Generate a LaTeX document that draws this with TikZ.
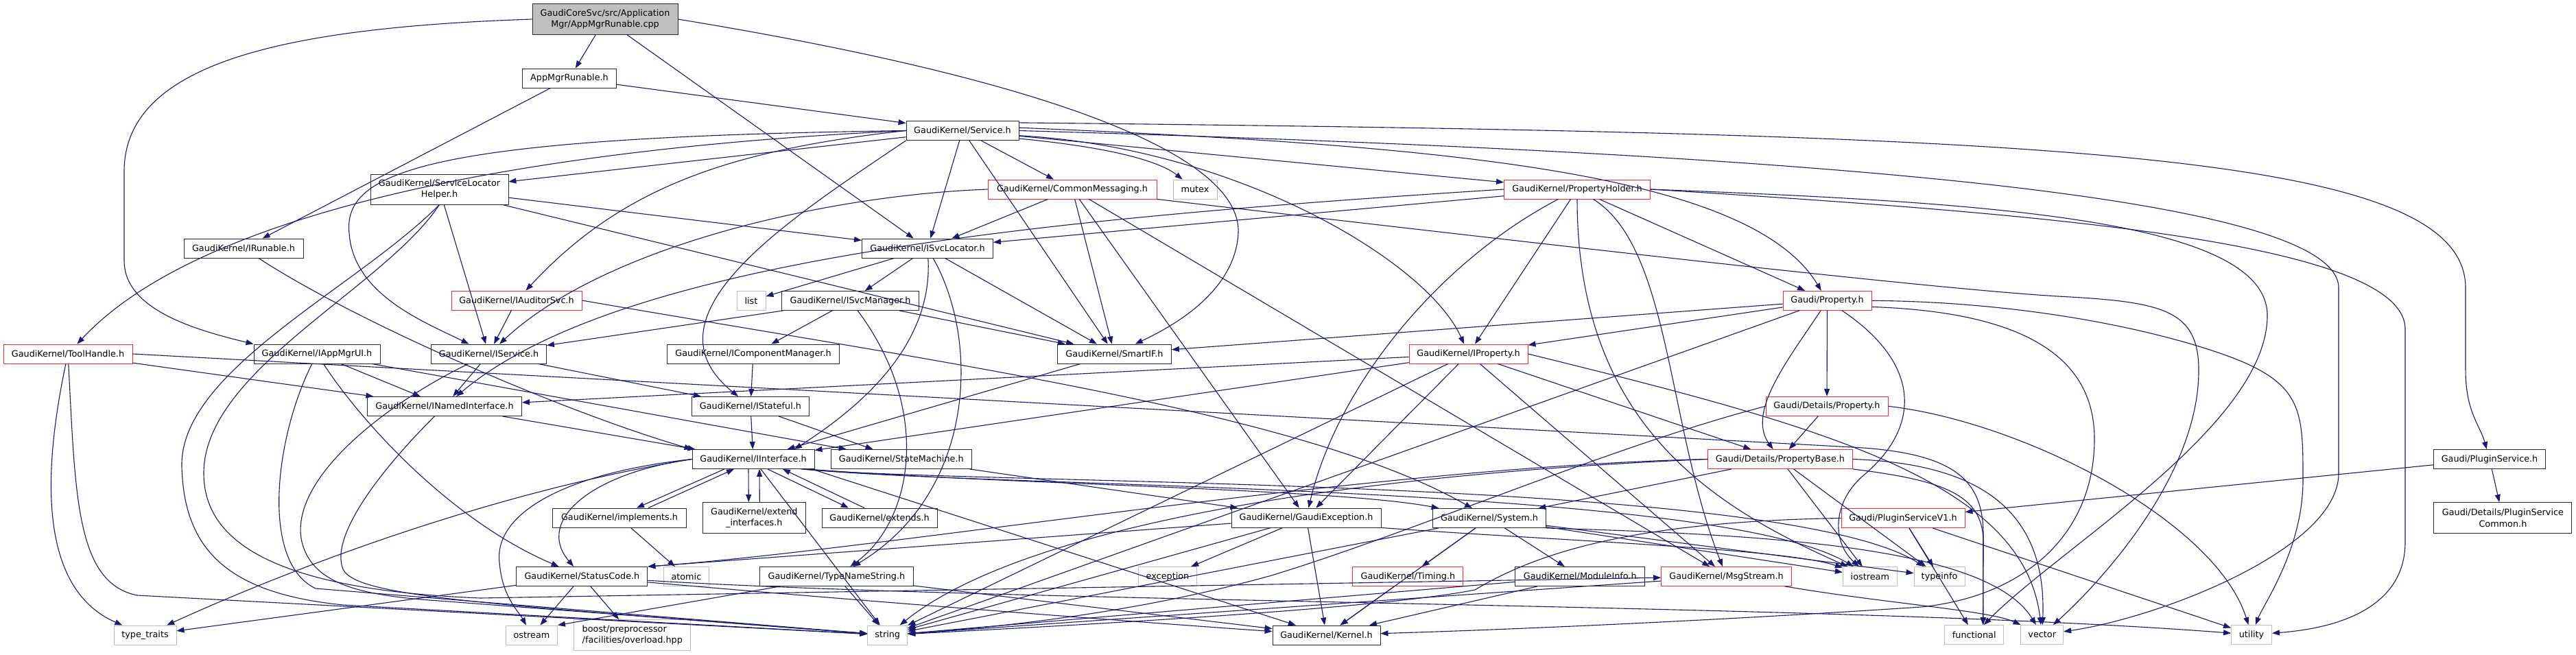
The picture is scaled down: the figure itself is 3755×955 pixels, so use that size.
\documentclass[tikz,border=0pt]{standalone}
\usepackage{fontspec}
\setmainfont{DejaVu Sans}
\usetikzlibrary{arrows.meta,calc}
\definecolor{edgec}{RGB}{25,25,112}
\definecolor{redc}{RGB}{255,40,40}
\definecolor{grayc}{RGB}{191,191,191}
\definecolor{boxc}{RGB}{40,40,40}
\begin{document}
\begin{tikzpicture}[x=1pt,y=-1pt,
  nd/.style={draw=boxc, line width=0.9pt, fill=white, inner xsep=2pt, inner ysep=0pt, minimum height=28pt, align=center, font=\fontsize{12.8pt}{16.7pt}\selectfont},
  rn/.style={nd, draw=redc},
  gn/.style={nd, draw=grayc},
  edg/.style={draw=edgec, line width=1.1pt, -{Triangle[length=11pt,width=8pt]}}]
\fill[white] (0,0) rectangle (3755,955);
\useasboundingbox (0,0) rectangle (3755,955);
% nodes
\node[nd, fill=grayc, minimum width=212pt, minimum height=45pt] (cpp) at (882,28) {GaudiCoreSvc/src/Application\\Mgr/AppMgrRunable.cpp};
\node[nd, minimum width=137pt] (amrh) at (830,114) {AppMgrRunable.h};
\node[nd, minimum width=164pt] (svc) at (1403,190.5) {GaudiKernel/Service.h};
\node[nd, minimum width=201pt, minimum height=44pt] (slh) at (640.5,276) {GaudiKernel/ServiceLocator\\Helper.h};
\node[rn, minimum width=246pt] (cmsg) at (1563,276) {GaudiKernel/CommonMessaging.h};
\node[gn, minimum width=64pt] (mutex) at (1742,276) {mutex};
\node[rn, minimum width=213pt] (phold) at (2299,276) {GaudiKernel/PropertyHolder.h};
\node[nd, minimum width=174pt] (irun) at (355,362) {GaudiKernel/IRunable.h};
\node[nd, minimum width=191pt] (isl) at (1352,362) {GaudiKernel/ISvcLocator.h};
\node[rn, minimum width=190pt] (iaud) at (753,438) {GaudiKernel/IAuditorSvc.h};
\node[gn, minimum width=42pt] (list) at (1095,438.5) {list};
\node[nd, minimum width=200pt] (ism) at (1239.5,438.5) {GaudiKernel/ISvcManager.h};
\node[rn, minimum width=129pt] (prop) at (2663.5,438.3) {Gaudi/Property.h};
\node[rn, minimum width=188pt] (tool) at (99,516) {GaudiKernel/ToolHandle.h};
\node[nd, minimum width=184pt] (iapp) at (462,516) {GaudiKernel/IAppMgrUI.h};
\node[nd, minimum width=168pt] (isvc) at (712.5,516) {GaudiKernel/IService.h};
\node[nd, minimum width=251pt] (icm) at (1098,516) {GaudiKernel/IComponentManager.h};
\node[nd, minimum width=166pt] (smart) at (1624.5,516) {GaudiKernel/SmartIF.h};
\node[rn, minimum width=173pt] (iprop) at (2140.5,516) {GaudiKernel/IProperty.h};
\node[nd, minimum width=225pt] (inamed) at (648,592.5) {GaudiKernel/INamedInterface.h};
\node[nd, minimum width=171pt] (istate) at (1094,592.5) {GaudiKernel/IStateful.h};
\node[rn, minimum width=178pt] (dprop) at (2663,592.3) {Gaudi/Details/Property.h};
\node[nd, minimum width=178pt] (iint) at (1098,669.5) {GaudiKernel/IInterface.h};
\node[nd, minimum width=205pt] (smach) at (1313.8,669.5) {GaudiKernel/StateMachine.h};
\node[rn, minimum width=211pt] (pbase) at (2595,669.5) {Gaudi/Details/PropertyBase.h};
\node[nd, minimum width=163pt] (psvc) at (3629,669.6) {Gaudi/PluginService.h};
\node[nd, minimum width=195pt] (impl) at (903,755) {GaudiKernel/implements.h};
\node[nd, minimum width=150pt, minimum height=45pt] (extif) at (1099.3,755) {GaudiKernel/extend\\\_interfaces.h};
\node[nd, minimum width=168pt] (extends) at (1282,755) {GaudiKernel/extends.h};
\node[nd, minimum width=218pt] (gexc) at (1904,755) {GaudiKernel/GaudiException.h};
\node[nd, minimum width=165pt] (system) at (2171,755.5) {GaudiKernel/System.h};
\node[rn, minimum width=180pt] (psv1) at (2774,755.5) {Gaudi/PluginServiceV1.h};
\node[nd, minimum width=201pt, minimum height=45pt] (pscommon) at (3648.4,755) {Gaudi/Details/PluginService\\Common.h};
\node[nd, minimum width=191pt] (stc) at (848.4,840.5) {GaudiKernel/StatusCode.h};
\node[gn, minimum width=66pt] (atomic) at (1000.4,840.5) {atomic};
\node[nd, minimum width=224pt] (tns) at (1219.4,840.5) {GaudiKernel/TypeNameString.h};
\node[gn, minimum width=85pt] (exception) at (1702,840.5) {exception};
\node[rn, minimum width=161pt] (timing) at (2052.4,840.5) {GaudiKernel/Timing.h};
\node[nd, minimum width=189pt] (modinfo) at (2303.3,840.5) {GaudiKernel/ModuleInfo.h};
\node[rn, minimum width=190pt] (msgs) at (2516.6,840.5) {GaudiKernel/MsgStream.h};
\node[gn, minimum width=79pt] (iostream) at (2725.8,840.5) {iostream};
\node[gn, minimum width=74pt] (typeinfo) at (2827,840.5) {typeinfo};
\node[gn, minimum width=91pt] (ttraits) at (211.5,926) {type\_traits};
\node[gn, minimum width=75pt] (ostream) at (775,926) {ostream};
\node[gn, minimum width=170pt, minimum height=45pt, align=left] (boost) at (921.8,926) {boost/preprocessor\\/facilities/overload.hpp};
\node[gn, minimum width=58pt] (string) at (1293.7,926) {string};
\node[nd, minimum width=157pt] (kernel) at (1933.5,926) {GaudiKernel/Kernel.h};
\node[gn, minimum width=86pt] (functional) at (2877.7,925.5) {functional};
\node[gn, minimum width=62pt] (vector) at (2976.7,925.5) {vector};
\node[gn, minimum width=59pt] (utility) at (3282,925.5) {utility};
% cpp
\draw[edg] (cpp) -- (amrh);
\draw[edg] (cpp.west) .. controls (420,40) and (181,90) .. (181,250) -- (181,380) .. controls (181,450) and (280,480) .. (iapp.north west);
\draw[edg] (cpp) -- (isl);
\draw[edg] (cpp.east) .. controls (1550,120) and (1810,230) .. (1805,340) .. controls (1800,430) and (1700,480) .. (smart);
% amrh
\draw[edg] (amrh) -- (svc);
\draw[edg] (amrh) -- (irun);
% svc
\draw[edg] (svc) -- (slh);
\draw[edg] (svc.west) .. controls (800,215) and (300,300) .. (tool);
\draw[edg] (svc.west) .. controls (620,200) and (500,250) .. (509,340) .. controls (515,430) and (620,470) .. (isvc);
\draw[edg] (svc.west) .. controls (1050,220) and (900,280) .. (iaud);
\draw[edg] (svc.south west) .. controls (1150,320) and (930,460) .. (istate);
\draw[edg] (svc) -- (isl);
\draw[edg] (svc) -- (smart);
\draw[edg] (svc) -- (cmsg);
\draw[edg] (svc.-8) .. controls (1620,215) and (1690,235) .. (mutex);
\draw[edg] (svc) -- (phold);
\draw[edg] (svc.-5) .. controls (1800,215) and (2080,380) .. (iprop);
\draw[edg] (svc.3) .. controls (2100,212) and (2550,250) .. (prop);
\draw[edg] (svc.8) .. controls (3000,195) and (3594,220) .. (3594,420) -- (3594,540) .. controls (3594,600) and (3615,620) .. (psvc);
\draw[edg] (svc.0) .. controls (2700,225) and (3409,290) .. (3409,420) -- (3409,690) .. controls (3409,800) and (3150,900) .. (vector);
% slh
\draw[edg] (slh) -- (isl);
\draw[edg] (slh) -- (smart);
\draw[edg] (slh) -- (isvc);
\draw[edg] (slh.south) .. controls (520,420) and (262,540) .. (265,680) .. controls (268,800) and (330,865) .. (500,882) -- (string);
\draw[edg] (slh.south) .. controls (560,420) and (297,540) .. (297,690) .. controls (297,790) and (400,860) .. (700,872) -- (msgs);
% cmsg
\draw[edg] (cmsg) -- (isl);
\draw[edg] (cmsg) -- (smart);
\draw[edg] (cmsg.west) .. controls (1200,285) and (880,360) .. (isvc);
\draw[edg] (cmsg) -- (gexc);
\draw[edg] (cmsg) -- (msgs);
\draw[edg] (cmsg.south east) .. controls (2200,350) and (2800,420) .. (3000,432) .. controls (3150,440) and (3205,450) .. (3205,540) .. controls (3205,700) and (3050,860) .. (vector);
% phold
\draw[edg] (phold) -- (isl);
\draw[edg] (phold.west) .. controls (1500,320) and (900,380) .. (inamed);
\draw[edg] (phold) .. controls (2100,380) and (1950,560) .. (gexc);
\draw[edg] (phold) -- (iprop);
\draw[edg] (phold.south) .. controls (2299,620) and (2500,740) .. (iostream);
\draw[edg] (phold) .. controls (2435,360) and (2430,620) .. (msgs);
\draw[edg] (phold) -- (prop);
\draw[edg] (phold.east) .. controls (2900,295) and (3305,320) .. (3305,460) .. controls (3305,620) and (3000,800) .. (functional);
\draw[edg] (phold.east) .. controls (2950,310) and (3506,350) .. (3506,480) -- (3506,790) .. controls (3506,880) and (3420,915) .. (utility);
% irun
\draw[edg] (irun) .. controls (520,470) and (820,600) .. (iint.north west);
% isl
\draw[edg] (isl) -- (list);
\draw[edg] (isl) -- (ism);
\draw[edg] (isl) -- (smart);
\draw[edg] (isl) .. controls (1430,500) and (1420,720) .. (tns);
\draw[edg] (isl) .. controls (1360,500) and (1260,590) .. ($(iint.north)+(60,0)$);
% iaud
\draw[edg] (iaud) -- (isvc);
\draw[edg] (iaud.east) .. controls (1350,525) and (1900,600) .. (system);
% ism
\draw[edg] (ism) -- (isvc);
\draw[edg] (ism) -- (icm);
\draw[edg] (ism) -- (smart);
\draw[edg] (ism) .. controls (1360,600) and (1330,760) .. (tns);
% tool
\draw[edg] (tool) -- (inamed);
\draw[edg] (tool) .. controls (60,700) and (60,860) .. (ttraits);
\draw[edg] (tool) .. controls (110,720) and (110,850) .. (200,868) -- (string);
\draw[edg] (tool.east) -- (2700,652) .. controls (2850,660) and (2891,700) .. (2891,780) -- ($(functional.north)+(13,0)$);
% iapp
\draw[edg] (iapp) -- (inamed);
\draw[edg] (iapp) -- (smach);
\draw[edg] (iapp) .. controls (530,620) and (660,760) .. (stc);
\draw[edg] (iapp) .. controls (400,640) and (380,820) .. (460,858) -- (string);
% isvc
\draw[edg] (isvc) -- (inamed);
\draw[edg] (isvc) -- (istate);
\draw[edg] (isvc) .. controls (560,590) and (420,700) .. (440,790) .. controls (455,850) and (520,868) .. (640,876) -- (string);
% inamed
\draw[edg] (inamed) -- (iint);
\draw[edg] (inamed) .. controls (560,680) and (480,780) .. (500,830) .. controls (520,870) and (700,880) .. (string);
% istate, icm, smart
\draw[edg] (istate) -- (iint);
\draw[edg] (istate) -- (smach);
\draw[edg] (icm) -- (istate);
\draw[edg] (smart) -- (iint);
% iprop
\draw[edg] (iprop) -- (inamed);
\draw[edg] (iprop) -- (iint);
\draw[edg] (iprop) -- (gexc);
\draw[edg] (iprop) -- (string);
\draw[edg] (iprop) -- (msgs);
\draw[edg] (iprop) -- (pbase);
\draw[edg] (iprop.east) .. controls (2650,620) and (2950,700) .. (vector);
% dprop
\draw[edg] (dprop) -- (pbase);
\draw[edg] (dprop.west) .. controls (2350,650) and (2050,780) .. (1850,840) .. controls (1650,895) and (1450,915) .. (string);
\draw[edg] (dprop.east) .. controls (2950,615) and (3230,760) .. (utility);
% iint
\draw[edg] ($(iint.south)+(-42,0)$) -- ($(impl.north)+(25,0)$);
\draw[edg] ($(impl.north)+(42,0)$) -- ($(iint.south)+(-28,0)$);
\draw[edg] ($(iint.south)+(-7,0)$) -- ($(extif.north)+(-8,0)$);
\draw[edg] ($(extif.north)+(8,0)$) -- ($(iint.south)+(9,0)$);
\draw[edg] ($(iint.south)+(21,0)$) -- ($(extends.north)+(-45,0)$);
\draw[edg] ($(extends.north)+(-22,0)$) -- ($(iint.south)+(43,0)$);
\draw[edg] (iint.west) .. controls (860,690) and (780,760) .. (stc);
\draw[edg] (iint.west) .. controls (820,690) and (720,750) .. (728,820) .. controls (732,870) and (755,890) .. (ostream);
\draw[edg] (iint) -- (string);
\draw[edg] (iint.west) .. controls (700,720) and (400,840) .. (ttraits);
\draw[edg] ($(iint.south east)+(-4,0)$) -- (kernel);
\draw[edg] ($(iint.south east)+(-10,0)$) .. controls (1450,706) and (1950,712) .. (system);
\draw[edg] ($(iint.south east)+(-16,0)$) .. controls (1450,712) and (2500,705) .. (iostream);
\draw[edg] ($(iint.south east)+(-20,0)$) .. controls (1450,708) and (2600,695) .. (typeinfo);
% impl
\draw[edg] (impl) -- (atomic);
% smach
\draw[edg] (smach) -- (gexc);
% pbase
\draw[edg] (pbase) -- (system);
\draw[edg] (pbase) -- (iostream);
\draw[edg] (pbase) -- (typeinfo);
\draw[edg] (pbase.west) .. controls (2000,690) and (1500,760) .. (string);
\draw[edg] (pbase.west) .. controls (2000,680) and (1300,800) .. (stc.north east);
\draw[edg] (pbase.south east) .. controls (2830,700) and (2891,720) .. (2891,790) -- ($(functional.north)+(13,0)$);
\draw[edg] (pbase.east) .. controls (2850,675) and (2985,720) .. (vector);
% gexc
\draw[edg] (gexc) -- (stc.north east);
\draw[edg] (gexc) -- (string);
\draw[edg] (gexc) -- (exception);
\draw[edg] (gexc) -- (kernel);
\draw[edg] (gexc.south east) .. controls (2300,790) and (2600,800) .. (iostream);
% system
\draw[edg] (system) -- (kernel);
\draw[edg] (system) -- (string);
\draw[edg] (system) -- (timing);
\draw[edg] (system) -- (modinfo);
\draw[edg] (system) -- (iostream);
\draw[edg] (system) -- (typeinfo);
\draw[edg] (system.south east) .. controls (2600,780) and (2900,800) .. (vector);
% psvc
\draw[edg] (psvc) -- (psv1);
\draw[edg] (psvc) -- (pscommon);
% psv1
\draw[edg] (psv1) -- (typeinfo);
\draw[edg] (psv1) -- (utility);
\draw[edg] (psv1) -- (functional);
\draw[edg] (psv1.west) .. controls (2400,760) and (2250,800) .. (2150,860) .. controls (2000,890) and (1500,915) .. (string);
% stc
\draw[edg] (stc) -- (ostream);
\draw[edg] (stc) -- (boost);
\draw[edg] (stc) -- (ttraits);
\draw[edg] (stc) .. controls (1300,880) and (1700,910) .. (kernel);
\draw[edg] (stc) .. controls (1500,880) and (2700,880) .. (utility);
% tns
\draw[edg] (tns) -- (string);
\draw[edg] (tns) -- (ostream.north east);
\draw[edg] (tns) -- (kernel);
% timing, modinfo, msgs
\draw[edg] (timing) -- (kernel);
\draw[edg] (modinfo) -- (kernel);
\draw[edg] (modinfo) -- (string);
\draw[edg] (msgs) -- (string);
\draw[edg] (msgs) .. controls (2750,880) and (2900,890) .. (vector);
% prop
\draw[edg] (prop) -- (iprop);
\draw[edg] (prop) -- (smart);
\draw[edg] (prop) -- (dprop);
\draw[edg] (prop) .. controls (2610,520) and (2545,600) .. (pbase);
\draw[edg] (prop) .. controls (2800,530) and (2800,620) .. (2720,690) .. controls (2670,730) and (2670,790) .. (iostream);
\draw[edg] (prop) -- (string);
\draw[edg] (prop.east) .. controls (2950,440) and (3141,480) .. (3250,520) .. controls (3357,560) and (3357,600) .. (3357,700) .. controls (3357,800) and (3300,880) .. (utility);
\draw[edg] (prop.-8) .. controls (2950,455) and (3053,520) .. (3053,640) .. controls (3053,780) and (2950,870) .. (2800,885) .. controls (2500,905) and (2200,918) .. (kernel);
\end{tikzpicture}
\end{document}
